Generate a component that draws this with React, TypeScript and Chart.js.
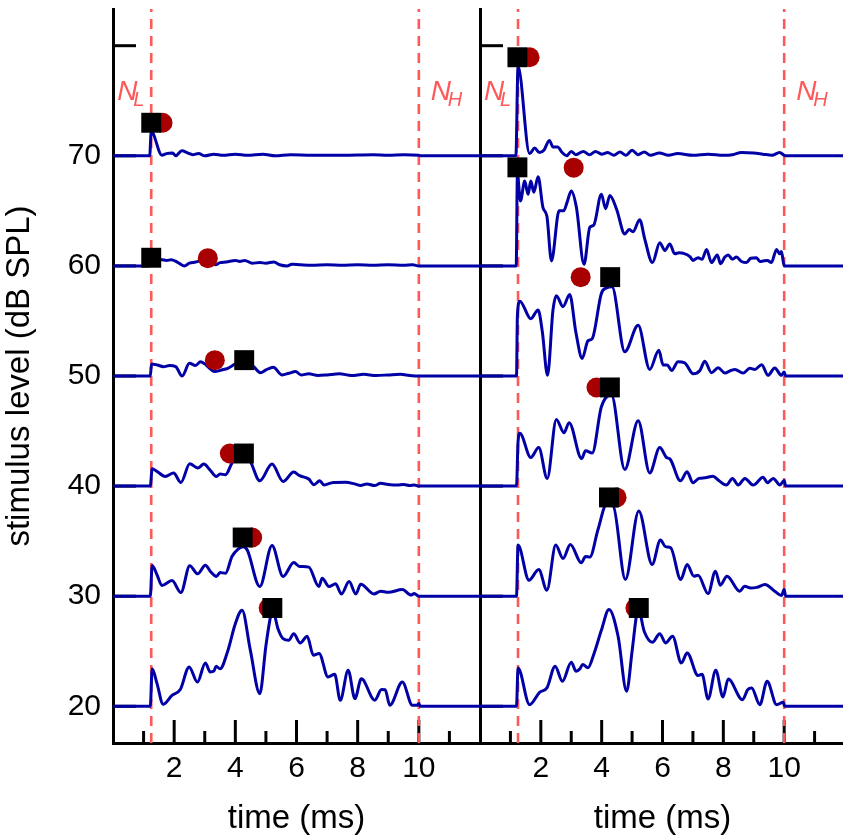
import React, { useEffect, useRef } from 'react';
import { Chart, registerables } from 'chart.js';

Chart.register(...registerables);

// ---------- axes ----------
const Y_MIN = 16.667;
const Y_MAX = 83.333;
const X_MIN = 0;
const X_MAX = 12;
const yTickValues = [20, 30, 40, 50, 60, 70, 80];
const yLabelValues = [20, 30, 40, 50, 60, 70];
const xTickValues = [1, 2, 3, 4, 5, 6, 7, 8, 9, 10, 11];
const xLabelValues = [2, 4, 6, 8, 10];
const boundaryTimes = [1.25, 10];

// ---------- traces: [time (ms), deflection above baseline (dB)] ----------
const levels = [70, 60, 50, 40, 30, 20];

const left70: [number, number][] = [[1.2, 0], [1.25, 2.2], [1.6, 0.05], [1.75, 0.2], [1.95, 0.25], [2.05, 0.0], [2.25, 0.45], [2.45, 0.25], [2.6, 0.1], [2.8, 0.2], [3.0, 0.0], [3.3, 0.15], [3.6, 0.05], [4.0, 0.15], [4.4, 0.05], [4.9, 0.15], [5.3, 0.0], [5.8, 0.1], [6.5, 0.05], [7.5, 0.05], [8.5, 0.1], [9.0, 0.05], [9.5, 0.1], [10.0, 0.05], [10.05, 0]];
const left60: [number, number][] = [[1.2, 0], [1.25, 0.6], [1.6, 0.55], [1.75, 0.5], [1.9, 0.55], [2.1, 0.35], [2.33, 0.0], [2.5, 0.25], [2.7, 0.35], [2.9, 0.5], [3.1, 0.5], [3.35, 0.1], [3.5, 0.3], [3.7, 0.35], [4.0, 0.5], [4.15, 0.4], [4.31, 0.5], [4.55, 0.25], [4.8, 0.3], [5.0, 0.25], [5.26, 0.36], [5.45, 0.1], [5.69, 0.0], [5.85, 0.15], [6.13, 0.1], [6.5, 0.05], [7.0, 0.1], [7.5, 0.05], [8.0, 0.1], [8.5, 0.05], [9.0, 0.1], [9.5, 0.05], [9.8, 0.1], [10.0, 0]];
const left50: [number, number][] = [[1.22, 0], [1.26, 1.1], [1.45, 1.0], [1.65, 0.85], [1.85, 0.95], [2.05, 0.85], [2.26, 0.0], [2.5, 1.15], [2.7, 0.95], [2.86, 1.3], [3.0, 1.1], [3.2, 0.6], [3.33, 0.4], [3.55, 0.55], [3.75, 0.7], [4.0, 1.1], [4.3, 1.45], [4.6, 0.85], [4.82, 0.3], [5.0, 0.55], [5.24, 0.8], [5.53, 0.1], [5.75, 0.25], [5.97, 0.4], [6.15, 0.1], [6.4, 0.2], [6.7, 0.05], [7.0, 0.1], [7.4, 0.2], [7.8, 0.05], [8.2, 0.15], [8.6, 0.05], [9.0, 0.1], [9.4, 0.15], [9.7, 0.05], [10.0, 0]];
const left40: [number, number][] = [[1.22, 0], [1.28, 1.58], [1.44, 1.33], [1.71, 0.88], [1.98, 1.18], [2.22, 0.33], [2.51, 2.03], [2.77, 1.64], [2.97, 2.0], [3.17, 1.48], [3.38, 0.88], [3.5, 1.1], [3.68, 1.03], [3.89, 2.09], [4.1, 2.7], [4.28, 2.9], [4.49, 2.24], [4.8, 0.48], [5.2, 2.0], [5.56, 0.42], [5.91, 1.27], [6.1, 0.95], [6.4, 0.64], [6.57, 0.12], [6.76, 0.48], [6.9, 0.1], [7.2, 0.33], [7.6, 0.36], [7.9, 0.2], [8.1, 0.05], [8.3, 0.2], [8.55, 0.05], [8.75, 0.25], [9.0, 0.15], [9.3, 0.1], [9.5, 0.15], [9.7, 0.05], [9.85, 0.1], [10.0, 0]];
const left30: [number, number][] = [[1.22, 0], [1.28, 2.79], [1.44, 1.94], [1.6, 0.97], [1.93, 1.42], [2.22, 0.33], [2.51, 2.76], [2.77, 2.03], [3.02, 2.82], [3.2, 2.2], [3.38, 1.79], [3.5, 2.15], [3.68, 2.09], [3.89, 3.6], [4.1, 4.3], [4.26, 4.5], [4.39, 4.2], [4.8, 0.88], [5.2, 4.6], [5.56, 1.79], [5.91, 3.06], [6.1, 2.7], [6.4, 2.64], [6.73, 0.88], [6.84, 1.64], [7.06, 0.88], [7.28, 1.12], [7.47, 0.2], [7.72, 1.33], [7.94, 0.2], [8.1, 1.09], [8.53, 0.2], [8.75, 0.45], [9.0, 0.35], [9.46, 0.6], [9.75, 0.1], [9.85, 0.25], [10.0, 0]];
const left20: [number, number][] = [[1.22, 0], [1.28, 3.42], [1.44, 2.06], [1.64, 0.18], [1.93, 1.0], [2.2, 1.52], [2.49, 3.58], [2.76, 2.2], [3.02, 3.94], [3.18, 3.12], [3.3, 3.2], [3.37, 3.64], [3.5, 3.4], [3.75, 5.0], [4.0, 7.5], [4.22, 8.73], [4.49, 5.1], [4.8, 1.15], [5.0, 5.5], [5.15, 8.12], [5.22, 8.7], [5.4, 7.0], [5.56, 6.15], [5.75, 6.0], [5.91, 6.6], [6.12, 5.76], [6.35, 6.36], [6.55, 4.64], [6.74, 4.8], [7.03, 2.67], [7.25, 2.9], [7.43, 0.55], [7.69, 3.27], [7.91, 0.7], [8.12, 2.5], [8.56, 0.55], [8.78, 1.52], [8.9, 1.5], [9.05, 0.09], [9.46, 2.2], [9.79, 0.1], [9.95, 0.1], [10.0, 0.25], [10.05, 0]];

const right70: [number, number][] = [[1.18, 0], [1.25, 8.1], [1.63, 0.2], [1.8, 0.7], [1.95, 0.3], [2.1, 0.5], [2.28, 1.4], [2.4, 0.8], [2.55, 0.8], [2.7, 0.3], [2.85, 0.0], [3.0, 0.4], [3.15, 0.1], [3.4, 0.4], [3.6, 0.1], [3.8, 0.4], [4.0, 0.15], [4.2, 0.3], [4.4, 0.05], [4.6, 0.35], [4.8, 0.05], [5.0, 0.5], [5.2, 0.1], [5.4, 0.35], [5.6, 0.05], [5.9, 0.25], [6.2, 0.05], [6.5, 0.2], [7.0, 0.05], [7.5, 0.15], [8.0, 0.05], [8.3, 0.1], [8.6, 0.3], [9.0, 0.25], [9.3, 0.15], [9.6, 0.05], [9.85, 0.3], [10.0, 0.05], [10.05, 0]];
const right60: [number, number][] = [[1.19, 0], [1.23, 8.3], [1.33, 5.9], [1.47, 7.7], [1.58, 6.5], [1.67, 7.7], [1.77, 6.7], [1.91, 8.1], [2.07, 5.3], [2.2, 4.5], [2.35, 0.45], [2.6, 5.0], [2.75, 5.0], [2.86, 5.75], [3.0, 6.8], [3.17, 5.3], [3.42, 0.15], [3.61, 3.5], [3.74, 3.7], [3.99, 6.5], [4.13, 5.2], [4.27, 6.4], [4.49, 5.15], [4.76, 2.9], [4.9, 3.3], [5.03, 3.1], [5.25, 4.2], [5.42, 2.4], [5.67, 0.3], [5.91, 2.1], [6.08, 1.4], [6.24, 2.0], [6.4, 1.1], [6.55, 1.2], [6.68, 1.15], [6.9, 0.85], [7.0, 0.5], [7.17, 0.75], [7.3, 0.6], [7.45, 1.5], [7.61, 0.3], [7.8, 1.0], [7.91, 0.2], [8.05, 0.8], [8.16, 1.0], [8.3, 0.6], [8.43, 0.8], [8.6, 0.4], [8.76, 0.3], [8.9, 0.7], [9.09, 0.75], [9.2, 0.4], [9.31, 0.45], [9.45, 0.5], [9.58, 0.3], [9.75, 1.5], [9.85, 1.1], [9.91, 1.3], [10.0, 0.0]];
const right50: [number, number][] = [[1.2, 0], [1.23, 5.5], [1.31, 6.8], [1.67, 5.2], [1.91, 6.0], [2.05, 4.0], [2.22, 0.06], [2.4, 6.0], [2.51, 7.3], [2.73, 6.3], [2.95, 7.4], [3.15, 4.0], [3.36, 1.6], [3.55, 3.2], [3.69, 3.4], [3.99, 7.5], [4.16, 8.0], [4.34, 8.1], [4.76, 2.2], [5.2, 4.6], [5.58, 0.6], [5.88, 2.33], [6.02, 1.0], [6.16, 1.0], [6.3, 0.5], [6.51, 1.3], [6.73, 1.2], [7.01, 0.2], [7.23, 0.5], [7.39, 1.33], [7.61, 0.3], [7.83, 0.75], [8.05, 0.27], [8.25, 0.5], [8.38, 0.6], [8.65, 0.27], [8.87, 0.7], [9.04, 0.6], [9.26, 1.03], [9.47, 0.06], [9.69, 0.73], [9.91, 0.06], [10.0, 0.36], [10.05, 0]];
const right40: [number, number][] = [[1.2, 0], [1.25, 4.0], [1.31, 4.8], [1.67, 2.6], [1.93, 3.5], [2.21, 0.7], [2.51, 6.06], [2.76, 4.85], [2.93, 5.76], [3.34, 2.5], [3.47, 3.2], [3.69, 3.0], [3.99, 7.2], [4.32, 8.3], [4.76, 1.5], [5.2, 5.94], [5.58, 1.2], [5.91, 3.5], [6.13, 2.6], [6.25, 2.45], [6.59, 0.48], [6.81, 1.3], [7.0, 0.3], [7.2, 0.7], [7.4, 0.75], [7.66, 0.9], [7.85, 0.5], [8.1, 0.1], [8.3, 0.7], [8.49, 0.1], [8.71, 0.7], [8.98, 0.1], [9.31, 0.8], [9.45, 0.3], [9.64, 0.7], [9.86, 0.1], [10.0, 0.5], [10.05, 0]];
const right30: [number, number][] = [[1.2, 0], [1.25, 4.64], [1.61, 1.45], [1.93, 2.42], [2.2, 0.55], [2.49, 4.64], [2.73, 3.42], [2.97, 4.7], [3.33, 3.03], [3.47, 3.6], [3.61, 3.55], [3.88, 6.06], [4.16, 8.33], [4.38, 8.2], [4.78, 1.52], [5.22, 7.73], [5.66, 2.88], [5.93, 5.1], [6.1, 4.5], [6.27, 4.4], [6.6, 1.52], [6.81, 2.88], [7.03, 1.82], [7.17, 1.9], [7.5, 0.24], [7.74, 2.27], [7.9, 1.0], [8.12, 1.82], [8.54, 0.45], [8.7, 0.9], [8.9, 0.75], [9.1, 0.8], [9.37, 1.06], [9.69, 0.45], [9.91, 0.06], [10.0, 0.6], [10.05, 0]];
const right20: [number, number][] = [[1.2, 0], [1.25, 3.48], [1.63, 0.15], [1.96, 1.27], [2.2, 1.67], [2.47, 3.64], [2.71, 2.27], [3.0, 4.0], [3.16, 3.18], [3.28, 3.4], [3.38, 3.8], [3.55, 3.5], [3.75, 4.8], [3.99, 6.9], [4.24, 8.8], [4.54, 6.36], [4.82, 1.36], [5.0, 5.0], [5.14, 8.18], [5.2, 8.9], [5.4, 6.8], [5.67, 5.82], [5.91, 6.6], [6.1, 5.76], [6.33, 6.36], [6.62, 3.94], [6.81, 4.85], [7.17, 2.79], [7.3, 2.9], [7.5, 0.67], [7.75, 3.27], [7.99, 0.85], [8.16, 2.48], [8.63, 0.6], [8.8, 1.5], [8.93, 1.67], [9.2, 0.15], [9.44, 2.27], [9.75, 0.15], [9.97, 0.36], [10.02, 0]];

const leftTraces = [left70, left60, left50, left40, left30, left20];
const rightTraces = [right70, right60, right50, right40, right30, right20];

// ---------- markers: squares and circles (time, level) ----------
const leftSquareT = [1.25, 1.25, 4.29, 4.28, 4.24, 5.21];
const leftSquareY = [73.0, 60.74, 51.44, 42.96, 35.33, 28.93];
const leftCircleT = [1.62, 3.1, 3.33, 3.82, 4.55, 5.09];
const leftCircleY = [73.0, 60.7, 51.44, 42.96, 35.33, 28.93];

const rightSquareT = [1.23, 1.23, 4.28, 4.27, 4.24, 5.22];
const rightSquareY = [78.95, 68.95, 58.98, 48.96, 38.97, 28.93];
const rightCircleT = [1.63, 3.08, 3.31, 3.83, 4.49, 5.11];
const rightCircleY = [78.95, 68.92, 58.98, 48.96, 38.97, 28.93];

// ---------- styles ----------
const FONT = "'Liberation Sans', Arial, Helvetica, sans-serif";
const TRACE_COLOR = '#0000a6';
const RED = 'rgb(255, 88, 88)';
const CIRCLE_COLOR = '#a80000';

const decorPlugin = {
  id: 'decor',
  beforeDatasetsDraw(chart: any) {
    const { ctx, chartArea, scales } = chart;
    const x = scales.x;
    const y = scales.y;
    ctx.save();
    ctx.strokeStyle = '#000';
    ctx.lineWidth = 3;
    ctx.lineCap = 'butt';
    for (const v of yTickValues) {
      const py = y.getPixelForValue(v);
      ctx.beginPath();
      ctx.moveTo(chartArea.left, py);
      ctx.lineTo(chartArea.left + 23, py);
      ctx.stroke();
    }
    for (const v of xTickValues) {
      const px = x.getPixelForValue(v);
      const len = xLabelValues.includes(v) ? 23 : 12;
      ctx.beginPath();
      ctx.moveTo(px, chartArea.bottom);
      ctx.lineTo(px, chartArea.bottom - len);
      ctx.stroke();
    }
    ctx.restore();
  },
  afterDatasetsDraw(chart: any) {
    const { ctx, scales } = chart;
    const x = scales.x;
    const y = scales.y;
    const bigFont = `italic 28px ${FONT}`;
    const subFont = `italic 20px ${FONT}`;
    const yMain = y.getPixelForValue(75.05);
    const ySub = y.getPixelForValue(74.5);
    const xl = x.getPixelForValue(boundaryTimes[0]);
    const xh = x.getPixelForValue(boundaryTimes[1]);
    ctx.save();
    ctx.fillStyle = RED;
    ctx.textAlign = 'left';
    ctx.textBaseline = 'alphabetic';
    ctx.font = bigFont;
    ctx.fillText('N', xl - 34, yMain);
    ctx.fillText('N', xh + 12, yMain);
    ctx.font = subFont;
    ctx.fillText('L', xl - 18, ySub);
    ctx.fillText('H', xh + 29, ySub);
    ctx.restore();
  },
};

function buildDatasets(traces: [number, number][][], sqT: number[], sqY: number[], ciT: number[], ciY: number[]) {
  const ds: any[] = [];
  sqT.forEach((t, i) => {
    ds.push({
      data: [{ x: t, y: sqY[i] }],
      showLine: false,
      pointStyle: 'rect',
      pointRadius: 14.1,
      pointBackgroundColor: '#000',
      pointBorderColor: '#000',
      pointBorderWidth: 0,
      order: 0,
    });
  });
  ciT.forEach((t, i) => {
    ds.push({
      data: [{ x: t, y: ciY[i] }],
      showLine: false,
      pointStyle: 'circle',
      pointRadius: 10,
      pointBackgroundColor: CIRCLE_COLOR,
      pointBorderColor: CIRCLE_COLOR,
      pointBorderWidth: 0,
      order: 1,
    });
  });
  traces.forEach((tr, i) => {
    const lvl = levels[i];
    const data = [{ x: X_MIN, y: lvl }, ...tr.map(([t, o]) => ({ x: t, y: lvl + o })), { x: X_MAX, y: lvl }];
    ds.push({
      data,
      borderColor: TRACE_COLOR,
      borderWidth: 3,
      pointRadius: 0,
      cubicInterpolationMode: 'monotone',
      borderJoinStyle: 'round',
      borderCapStyle: 'round',
      fill: false,
      order: 2,
    });
  });
  boundaryTimes.forEach((t) => {
    ds.push({
      data: [{ x: t, y: Y_MIN }, { x: t, y: Y_MAX }],
      borderColor: RED,
      borderWidth: 2.6,
      borderDash: [10, 7],
      pointRadius: 0,
      fill: false,
      order: 3,
    });
  });
  return ds;
}

function makeConfig(traces: [number, number][][], sqT: number[], sqY: number[], ciT: number[], ciY: number[], showY: boolean): any {
  return {
    type: 'line',
    data: { datasets: buildDatasets(traces, sqT, sqY, ciT, ciY) },
    plugins: [decorPlugin],
    options: {
      responsive: false,
      maintainAspectRatio: false,
      animation: false,
      devicePixelRatio: 1,
      events: [],
      layout: { autoPadding: false, padding: { top: 9, left: 0, right: 0, bottom: 0 } },
      plugins: { legend: { display: false }, tooltip: { enabled: false } },
      scales: {
        x: {
          type: 'linear',
          position: 'bottom',
          min: X_MIN,
          max: X_MAX,
          grid: { display: false, drawTicks: false },
          border: { display: true, width: 3, color: '#000' },
          afterBuildTicks: (s: any) => {
            s.ticks = xTickValues.map((v) => ({ value: v }));
          },
          ticks: {
            autoSkip: false,
            maxRotation: 0,
            minRotation: 0,
            padding: 8,
            color: '#000',
            font: { family: FONT, size: 30 },
            callback: (v: any) => (xLabelValues.includes(Number(v)) ? String(v) : ''),
          },
          title: {
            display: true,
            text: 'time (ms)',
            color: '#000',
            font: { family: FONT, size: 33 },
            padding: { top: 0, bottom: 0 },
          },
          afterFit: (s: any) => {
            s.height = 96;
            s.paddingLeft = 0;
            s.paddingRight = 0;
          },
        },
        y: {
          type: 'linear',
          position: 'left',
          min: Y_MIN,
          max: Y_MAX,
          grid: { display: false, drawTicks: false },
          border: { display: true, width: 3, color: '#000' },
          afterBuildTicks: (s: any) => {
            s.ticks = yTickValues.map((v) => ({ value: v }));
          },
          ticks: {
            display: showY,
            autoSkip: false,
            padding: 12,
            color: '#000',
            font: { family: FONT, size: 30 },
            callback: (v: any) => (yLabelValues.includes(Number(v)) ? String(v) : ''),
          },
          title: {
            display: showY,
            text: 'stimulus level (dB SPL)',
            color: '#000',
            font: { family: FONT, size: 33 },
            padding: { top: 0, bottom: 0 },
          },
          afterFit: (s: any) => {
            s.width = showY ? 113 : 3;
            s.paddingTop = 0;
            s.paddingBottom = 0;
          },
        },
      },
    },
  };
}

export default function App() {
  const leftRef = useRef<HTMLCanvasElement>(null);
  const rightRef = useRef<HTMLCanvasElement>(null);

  useEffect(() => {
    const c1 = new Chart(leftRef.current as HTMLCanvasElement, makeConfig(leftTraces, leftSquareT, leftSquareY, leftCircleT, leftCircleY, true));
    const c2 = new Chart(rightRef.current as HTMLCanvasElement, makeConfig(rightTraces, rightSquareT, rightSquareY, rightCircleT, rightCircleY, false));
    return () => {
      c1.destroy();
      c2.destroy();
    };
  }, []);

  return (
    <div style={{ position: 'absolute', left: 0, top: 0, width: 843, height: 839, overflow: 'hidden', background: '#fff' }}>
      <canvas ref={leftRef} width={480} height={839} style={{ position: 'absolute', left: 0, top: 0, width: 480, height: 839 }} />
      <canvas ref={rightRef} width={368} height={839} style={{ position: 'absolute', left: 477, top: 0, width: 368, height: 839 }} />
    </div>
  );
}
